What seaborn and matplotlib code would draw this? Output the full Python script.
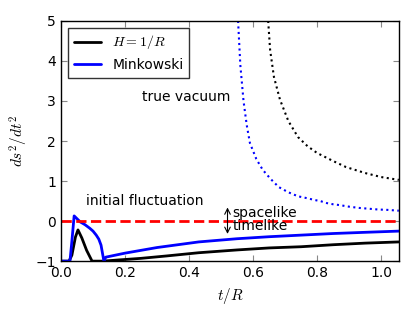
import numpy as np
import pandas as pd
import matplotlib
matplotlib.use('Agg')
import matplotlib.pyplot as plt
import seaborn as sns

# solid curves: ds^2/dt^2 of the bubble wall
t_hub = [0.0, 0.025, 0.034, 0.045, 0.053, 0.065, 0.08, 0.097, 0.13, 0.18, 0.25, 0.33,
         0.43, 0.55, 0.65, 0.75, 0.85, 0.95, 1.055]
y_hub = [-1.0, -1.0, -0.85, -0.4, -0.22, -0.42, -0.73, -1.0, -1.0, -0.97, -0.93, -0.87,
         -0.79, -0.72, -0.67, -0.64, -0.59, -0.55, -0.52]

t_mink = [0.0, 0.028, 0.034, 0.041, 0.06, 0.075, 0.09, 0.1, 0.11, 0.118, 0.125, 0.134,
          0.14, 0.2, 0.3, 0.43, 0.55, 0.65, 0.75, 0.85, 0.95, 1.055]
y_mink = [-1.0, -1.0, -0.5, 0.13, -0.02, -0.09, -0.18, -0.25, -0.35, -0.45, -0.6, -1.0,
          -0.9, -0.8, -0.66, -0.52, -0.44, -0.39, -0.35, -0.31, -0.28, -0.25]

# dotted curves: true vacuum
t_hub_vac = [0.647, 0.653, 0.665, 0.684, 0.71, 0.74, 0.77, 0.8, 0.85, 0.89, 0.95, 1.0, 1.055]
y_hub_vac = [5.0, 4.28, 3.6, 3.03, 2.5, 2.1, 1.87, 1.7, 1.5, 1.35, 1.2, 1.1, 1.03]

t_mink_vac = [0.553, 0.56, 0.57, 0.58, 0.59, 0.61, 0.63, 0.655, 0.68, 0.71, 0.74, 0.77,
              0.79, 0.81, 0.83, 0.85, 0.87, 0.9, 0.93, 0.96, 0.99, 1.02, 1.055]
y_mink_vac = [5.0, 3.9, 3.0, 2.4, 1.95, 1.55, 1.28, 1.05, 0.85, 0.72, 0.62, 0.57,
              0.53, 0.5, 0.45, 0.42, 0.4, 0.36, 0.33, 0.31, 0.29, 0.28, 0.26]

t_zero = [0.0, 1.055]
y_zero = [0.0, 0.0]

sns.set_style('ticks', {'xtick.direction': 'in', 'ytick.direction': 'in'})
plt.rcParams['font.family'] = ['DejaVu Sans']
plt.rcParams['font.size'] = 10
plt.rcParams['mathtext.fontset'] = 'cm'
plt.rcParams['text.color'] = 'k'
plt.rcParams['axes.labelcolor'] = 'k'
plt.rcParams['xtick.labelcolor'] = 'k'
plt.rcParams['ytick.labelcolor'] = 'k'

fig, ax = plt.subplots(figsize=(4.15, 3.12), dpi=100)
fig.subplots_adjust(left=0.147, right=0.961, bottom=0.163, top=0.933)

sns.lineplot(x=t_hub, y=y_hub, sort=False, estimator=None, color='k', lw=2,
             label='$H=1/R$', ax=ax)
sns.lineplot(x=t_mink, y=y_mink, sort=False, estimator=None, color='b', lw=2,
             label='Minkowski', ax=ax)
sns.lineplot(x=t_hub_vac, y=y_hub_vac, sort=False, estimator=None, color='k', lw=1.5,
             ls=':', ax=ax)
sns.lineplot(x=t_mink_vac, y=y_mink_vac, sort=False, estimator=None, color='b', lw=1.5,
             ls=':', ax=ax)
sns.lineplot(x=t_zero, y=y_zero, sort=False, estimator=None, color='r', lw=2,
             ls='--', ax=ax)

ax.text(0.253, 3.1, 'true vacuum', va='center')
ax.text(0.078, 0.5, 'initial fluctuation', va='center')
ax.annotate('', xy=(0.52, -0.32), xytext=(0.52, 0.34),
            arrowprops=dict(arrowstyle='<->', color='k', lw=0.8, shrinkA=0, shrinkB=0))
ax.text(0.535, 0.2, 'spacelike', va='center')
ax.text(0.535, -0.12, 'timelike', va='center')

ax.set_xlim(0, 1.055)
ax.set_ylim(-1, 5)
ax.set_xticks([0.0, 0.2, 0.4, 0.6, 0.8, 1.0])
ax.set_yticks([-1, 0, 1, 2, 3, 4, 5])
ax.tick_params(top=True, right=True, length=4, color='#888888', labelsize=10)
for s in ax.spines.values():
    s.set_color('k')
    s.set_linewidth(1)
ax.set_xlabel('$t/R$', fontsize=11)
ax.set_ylabel('$ds^2/dt^2$', fontsize=11)

leg = ax.legend(loc='upper left', fancybox=False, frameon=True, fontsize=10,
                handlelength=2)
leg.get_frame().set_edgecolor('k')
leg.get_frame().set_linewidth(1)

fig.savefig('out.png', dpi=100)
